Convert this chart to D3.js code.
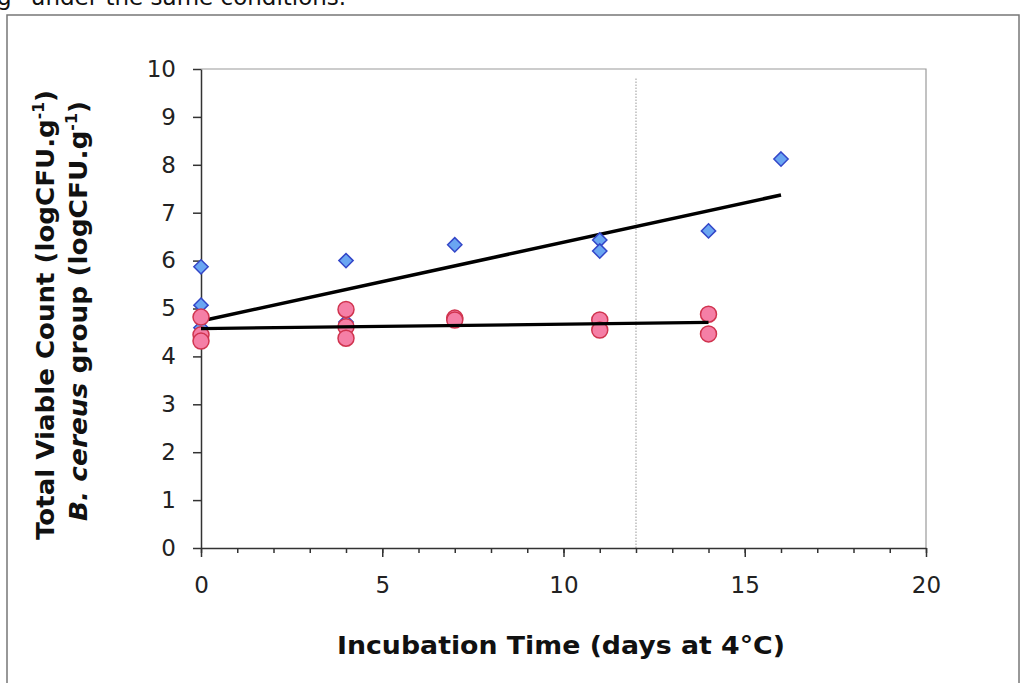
<!DOCTYPE html>
<html>
<head>
<meta charset="utf-8">
<script src="https://cdn.jsdelivr.net/npm/d3@7"></script>
<style>
  html, body { margin: 0; padding: 0; background: #fff; }
  svg { display: block; }
</style>
</head>
<body>
<script>
// total viable count (blue diamonds)
var tvcDays = [0, 0, 0, 4, 4, 7, 11, 11, 14, 16];
var tvcLog  = [4.6, 5.07, 5.87, 4.72, 6.0, 6.33, 6.43, 6.2, 6.62, 8.12];
// B. cereus group (pink circles)
var bcDays = [0, 0, 0, 4, 4, 4, 7, 7, 11, 11, 14, 14];
var bcLog  = [4.82, 4.45, 4.32, 4.98, 4.62, 4.38, 4.8, 4.76, 4.76, 4.55, 4.88, 4.47];
// fitted lines, end points
var tvcFitDays = [0, 16];
var tvcFitLog  = [4.74, 7.37];
var bcFitDays = [0, 14];
var bcFitLog  = [4.58, 4.71];
var markerDay = 12;

var xTicks = [0, 5, 10, 15, 20];
var yTicks = [0, 1, 2, 3, 4, 5, 6, 7, 8, 9, 10];

var W = 1021, H = 683;
// plot area edges (note: "top" is taken by window.top)
var plotL = 201, plotR = 926, plotT = 69, plotB = 548;

var svg = d3.select("body").append("svg")
    .attr("width", W)
    .attr("height", H);

svg.append("rect").attr("width", W).attr("height", H).attr("fill", "#fff");

// clipped caption from the page above
svg.append("text")
    .attr("x", -3).attr("y", 5)
    .style("font-family", "DejaVu Sans, Verdana, sans-serif")
    .style("font-size", "23px")
    .attr("fill", "#111")
    .text("g\u201D under the same conditions.");

// outer frame
svg.append("rect")
    .attr("x", 7).attr("y", 15)
    .attr("width", 1012).attr("height", 700)
    .attr("fill", "none")
    .attr("stroke", "#777")
    .attr("stroke-width", 1.5);

var x = d3.scaleLinear().domain([0, 20]).range([plotL, plotR]);
var y = d3.scaleLinear().domain([0, 10]).range([plotB, plotT]);

// plot box (top + right in grey)
svg.append("path")
    .attr("d", "M" + x(0) + "," + y(10) + "H" + x(20) + "V" + y(0))
    .attr("fill", "none")
    .attr("stroke", "#9a9a9a")
    .attr("stroke-width", 1.2);

// dotted vertical marker
svg.append("line")
    .attr("x1", x(markerDay)).attr("x2", x(markerDay))
    .attr("y1", y(9.8)).attr("y2", y(0))
    .attr("stroke", "#aaa")
    .attr("stroke-width", 1.2)
    .attr("stroke-dasharray", "1.5,1.5");

var tickFont = function(sel) {
    sel.selectAll("text")
        .style("font-family", "DejaVu Sans, Verdana, sans-serif")
        .style("font-size", "23px")
        .attr("fill", "#222");
    sel.select(".domain").attr("stroke", "#333").attr("stroke-width", 1.5);
    sel.selectAll(".tick line").attr("stroke", "#333").attr("stroke-width", 1.5);
};

// minor x ticks
svg.append("g")
    .attr("transform", "translate(0," + y(0) + ")")
    .call(d3.axisBottom(x).ticks(20).tickSize(5).tickFormat(""))
    .call(function(g) {
        g.select(".domain").remove();
        g.selectAll(".tick line").attr("stroke", "#333").attr("stroke-width", 1.5);
    });

svg.append("g")
    .attr("transform", "translate(0," + y(0) + ")")
    .call(d3.axisBottom(x).tickValues(xTicks).tickSize(9).tickSizeOuter(0).tickPadding(20))
    .call(tickFont);

svg.append("g")
    .attr("transform", "translate(" + x(0) + ",0)")
    .call(d3.axisLeft(y).tickValues(yTicks).tickSize(8).tickSizeOuter(0).tickPadding(17))
    .call(tickFont);

// fitted lines
var line = d3.line().x(function(d) { return x(d[0]); }).y(function(d) { return y(d[1]); });
svg.append("path")
    .datum(d3.zip(tvcFitDays, tvcFitLog))
    .attr("d", line)
    .attr("fill", "none").attr("stroke", "#000").attr("stroke-width", 3.5);

// points
var diamond = d3.symbol().type(d3.symbolDiamond2).size(130);
svg.append("g").selectAll("path")
    .data(d3.zip(tvcDays, tvcLog))
    .join("path")
    .attr("d", diamond)
    .attr("transform", function(d) { return "translate(" + x(d[0]) + "," + y(d[1]) + ")"; })
    .attr("fill", "#6aa6f2")
    .attr("stroke", "#3346c8")
    .attr("stroke-width", 1.5);

svg.append("g").selectAll("circle")
    .data(d3.zip(bcDays, bcLog))
    .join("circle")
    .attr("cx", function(d) { return x(d[0]); })
    .attr("cy", function(d) { return y(d[1]); })
    .attr("r", 8)
    .attr("fill", "#f57fa6")
    .attr("stroke", "#d0344f")
    .attr("stroke-width", 1.5);

svg.append("path")
    .datum(d3.zip(bcFitDays, bcFitLog))
    .attr("d", line)
    .attr("fill", "none").attr("stroke", "#000").attr("stroke-width", 3.3);

// axis titles
var bold = function(t) {
    t.style("font-family", "DejaVu Sans, Verdana, sans-serif")
     .style("font-size", "25px")
     .style("font-weight", "bold")
     .attr("fill", "#111");
};

svg.append("text")
    .attr("x", 561).attr("y", 654)
    .attr("text-anchor", "middle")
    .attr("textLength", 448).attr("lengthAdjust", "spacingAndGlyphs")
    .call(bold)
    .text("Incubation Time (days at 4\u00B0C)");

var yl1 = svg.append("text")
    .attr("transform", "translate(54,315) rotate(-90)")
    .attr("text-anchor", "middle")
    .attr("textLength", 450).attr("lengthAdjust", "spacingAndGlyphs")
    .call(bold);
yl1.append("tspan").text("Total Viable Count (logCFU.g");
yl1.append("tspan").attr("dy", -10).style("font-size", "15px").text("-1");
yl1.append("tspan").attr("dy", 10).text(")");

var yl2 = svg.append("text")
    .attr("transform", "translate(87,311) rotate(-90)")
    .attr("text-anchor", "middle")
    .attr("textLength", 420).attr("lengthAdjust", "spacingAndGlyphs")
    .call(bold);
yl2.append("tspan").style("font-style", "italic").text("B. cereus");
yl2.append("tspan").text(" group (logCFU.g");
yl2.append("tspan").attr("dy", -10).style("font-size", "15px").text("-1");
yl2.append("tspan").attr("dy", 10).text(")");
</script>
</body>
</html>
